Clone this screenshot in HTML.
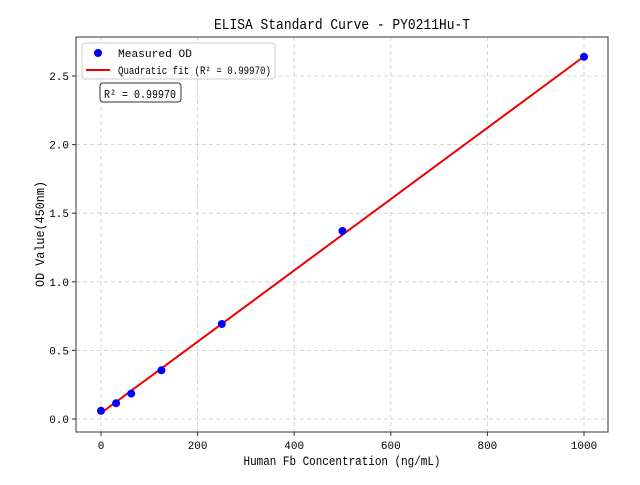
<!DOCTYPE html>
<html><head><meta charset="utf-8"><style>
body{margin:0;background:#fff}
text{font-family:"Liberation Mono","Noto Sans CJK SC",monospace;fill:#000}
</style></head><body>
<svg width="640" height="480" xmlns="http://www.w3.org/2000/svg">
<rect width="640" height="480" fill="#fff"/>
<g stroke="#ccc" stroke-dasharray="4,3" stroke-width="0.8">
<line x1="101" y1="37" x2="101" y2="432"/><line x1="197.6" y1="37" x2="197.6" y2="432"/><line x1="294.2" y1="37" x2="294.2" y2="432"/><line x1="390.8" y1="37" x2="390.8" y2="432"/><line x1="487.4" y1="37" x2="487.4" y2="432"/><line x1="584" y1="37" x2="584" y2="432"/>
<line x1="76" y1="419" x2="608" y2="419"/><line x1="76" y1="350.4" x2="608" y2="350.4"/><line x1="76" y1="281.8" x2="608" y2="281.8"/><line x1="76" y1="213.2" x2="608" y2="213.2"/><line x1="76" y1="144.6" x2="608" y2="144.6"/><line x1="76" y1="76" x2="608" y2="76"/>
</g>
<polyline fill="none" stroke="#e00" stroke-width="2" points="101,413 584,56.5"/>
<g fill="#00f">
<circle cx="101" cy="410.8" r="4"/><circle cx="116.1" cy="403.2" r="4"/><circle cx="131.2" cy="393.6" r="4"/><circle cx="161.4" cy="370.3" r="4"/><circle cx="221.8" cy="324" r="4"/><circle cx="342.5" cy="231" r="4"/><circle cx="584" cy="56.8" r="4"/>
</g>
<rect x="76" y="37" width="532" height="395" fill="none" stroke="#333" stroke-width="1"/>
<g stroke="#333"><line x1="101" y1="432" x2="101" y2="436"/><line x1="197.6" y1="432" x2="197.6" y2="436"/><line x1="294.2" y1="432" x2="294.2" y2="436"/><line x1="390.8" y1="432" x2="390.8" y2="436"/><line x1="487.4" y1="432" x2="487.4" y2="436"/><line x1="584" y1="432" x2="584" y2="436"/>
<line x1="72" y1="419" x2="76" y2="419"/><line x1="72" y1="350.4" x2="76" y2="350.4"/><line x1="72" y1="281.8" x2="76" y2="281.8"/><line x1="72" y1="213.2" x2="76" y2="213.2"/><line x1="72" y1="144.6" x2="76" y2="144.6"/><line x1="72" y1="76" x2="76" y2="76"/></g>
<g font-size="11" text-anchor="middle"><text x="101" y="449">0</text><text x="197.6" y="449">200</text><text x="294.2" y="449">400</text><text x="390.8" y="449">600</text><text x="487.4" y="449">800</text><text x="584" y="449">1000</text></g>
<g font-size="11" text-anchor="end"><text x="69" y="423">0.0</text><text x="69" y="354.4">0.5</text><text x="69" y="285.8">1.0</text><text x="69" y="217.2">1.5</text><text x="69" y="148.6">2.0</text><text x="69" y="80">2.5</text></g>
<text x="342" y="465" font-size="13" text-anchor="middle" textLength="197" lengthAdjust="spacingAndGlyphs">Human Fb Concentration (ng/mL)</text>
<text transform="translate(44,234) rotate(-90)" font-size="13" text-anchor="middle" textLength="106" lengthAdjust="spacingAndGlyphs">OD Value(450nm)</text>
<text x="342" y="29" font-size="15" text-anchor="middle" textLength="256" lengthAdjust="spacingAndGlyphs">ELISA Standard Curve - PY0211Hu-T</text>
<rect x="82" y="43" width="193" height="36" rx="3" fill="#fff" fill-opacity="0.85" stroke="#ccc"/>
<circle cx="98" cy="53" r="4" fill="#00f"/>
<line x1="86" y1="70" x2="110" y2="70" stroke="#e00" stroke-width="2"/>
<text x="118" y="57" font-size="11" textLength="74" lengthAdjust="spacingAndGlyphs">Measured OD</text>
<text x="118" y="74" font-size="11" textLength="153" lengthAdjust="spacingAndGlyphs">Quadratic fit (R² = 0.99970)</text>
<rect x="100" y="83" width="81" height="19" rx="3" fill="#fff" stroke="#333"/>
<text x="104" y="98" font-size="12" textLength="72" lengthAdjust="spacingAndGlyphs">R² = 0.99970</text>
</svg>
</body></html>
